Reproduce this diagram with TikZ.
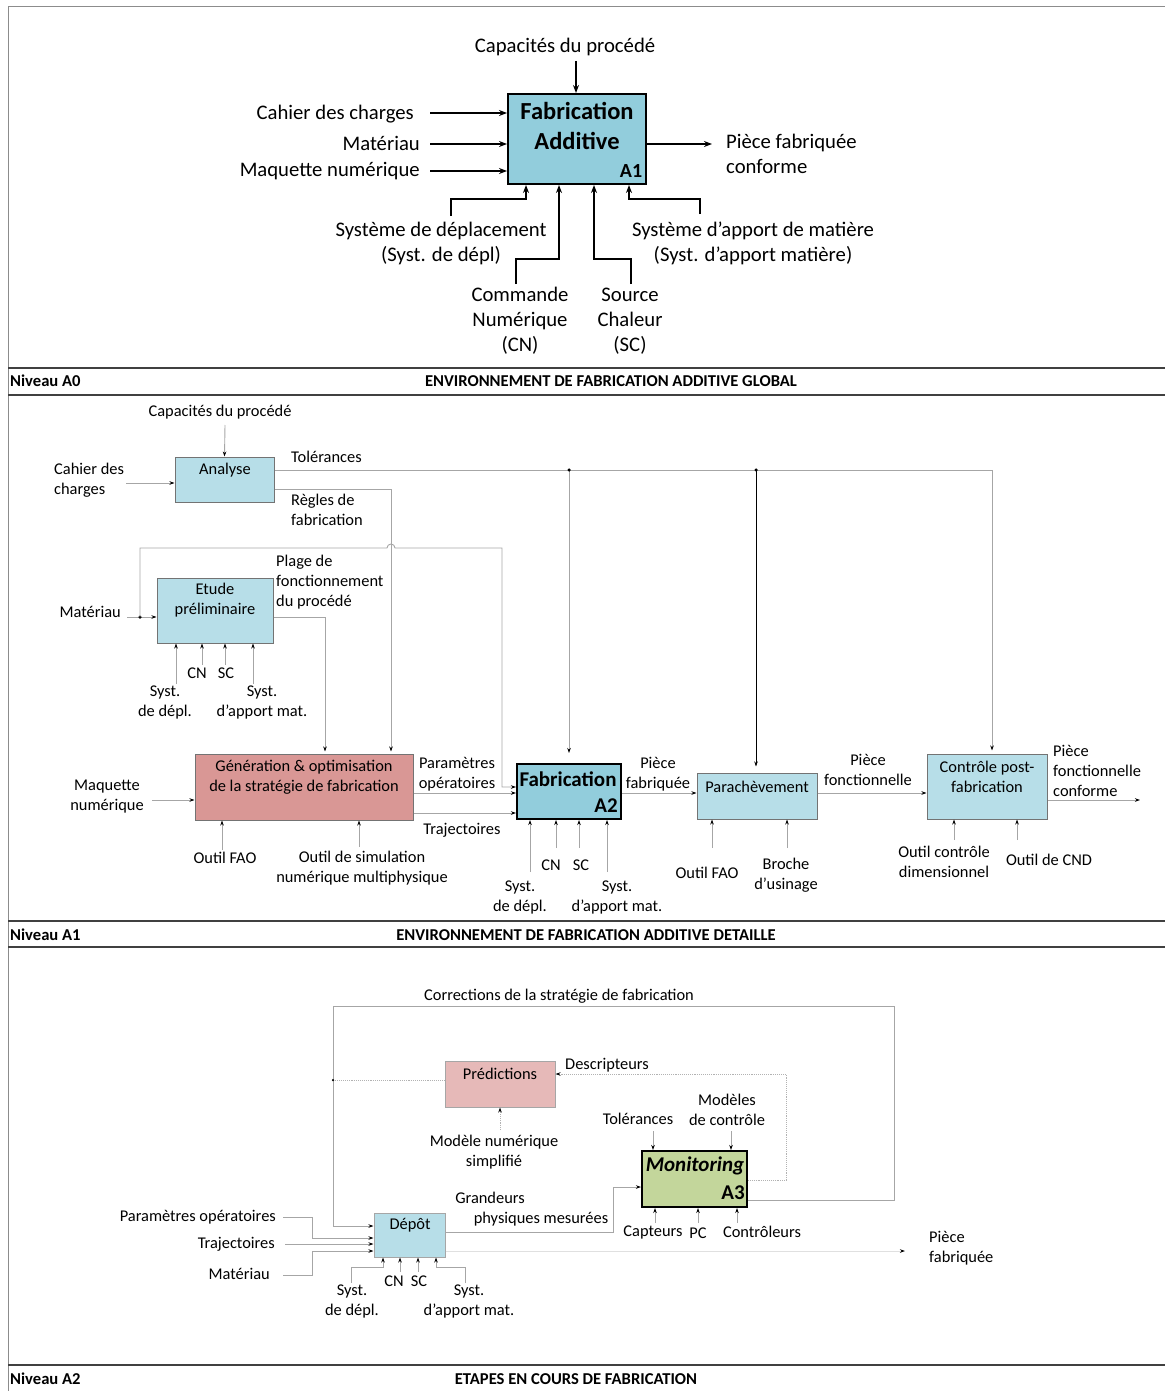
\documentclass[tikz,border=0pt]{standalone}
\usepackage{fontspec}
\setmainfont{Carlito}
\usetikzlibrary{arrows.meta}
\definecolor{bdark}{HTML}{92CDDC}
\definecolor{blight}{HTML}{B7DEE8}
\definecolor{salmon}{HTML}{D99795}
\definecolor{pinkp}{HTML}{E6B9B8}
\definecolor{greenm}{HTML}{C3D69B}
\definecolor{lgray}{HTML}{A6A6A6}
\newcommand\fA{\fontsize{20.7}{25}\selectfont}
\newcommand\fB{\fontsize{16.4}{20}\selectfont}
\newcommand\fBand{\fontsize{16.6}{18}\selectfont\bfseries}
\begin{document}
\begin{tikzpicture}[x=1pt,y=-1pt,
  big/.style={font=\fA, inner sep=0, align=center},
  lbl/.style={font=\fB, inner sep=0, align=center},
  band/.style={font=\fBand, inner sep=0},
  arrT/.style={-{Stealth[length=8pt,width=6pt]}, line width=1.4},
  arr/.style={-{Stealth[length=5pt,width=3.5pt,color=black]}, draw=lgray, line width=0.9},
  ln/.style={draw=lgray, line width=0.9},
  dotarr/.style={-{Stealth[length=5pt,width=3.5pt,color=black]}, draw=lgray, line width=0.9, densely dotted},
  boxbig/.style={draw=black, line width=2, inner sep=0},
  boxl/.style={draw=black!55, line width=1, inner sep=0},
  jdot/.style={circle, fill=black, inner sep=0, minimum size=3.5pt}
]
\useasboundingbox (0,0) rectangle (1165,1391);
% frame
\draw[black!45, line width=1] (8,1391) -- (8,7) -- (1165,7);
\draw[black!75, line width=2] (8,368) -- (1165,368);
\draw[black!75, line width=1.6] (8,395) -- (1165,395);
\draw[black!75, line width=2] (8,921) -- (1165,921);
\draw[black!75, line width=1.6] (8,947) -- (1165,947);
\draw[black!75, line width=2] (8,1365) -- (1165,1365);
\node[band, anchor=west] (nA0) at (10,381) {Niveau A0};
\node[band] (tA0) at (611,381) {ENVIRONNEMENT DE FABRICATION ADDITIVE GLOBAL};
\node[band, anchor=west] (nA1) at (10,935) {Niveau A1};
\node[band] (tA1) at (586,935) {ENVIRONNEMENT DE FABRICATION ADDITIVE DETAILLE};
\node[band, anchor=west] (nA2) at (10,1379) {Niveau A2};
\node[band] (tA2) at (576,1379) {ETAPES EN COURS DE FABRICATION};

% ================= Level A0 =================
\node[boxbig, fill=bdark, minimum width=138, minimum height=90] (A1) at (577,139) {};
\node[font=\fontsize{24.5}{28}\selectfont\bfseries, inner sep=0] (A1t1) at (577,111) {Fabrication};
\node[font=\fontsize{24.5}{28}\selectfont\bfseries, inner sep=0] (A1t2) at (577,141) {Additive};
\node[font=\fontsize{20}{22}\selectfont\bfseries, inner sep=0] (A1n) at (631,171) {A1};

\node[big] (cap0) at (565,47) {Capacités du procédé};
\draw[arrT] (576,61) -- (A1.north -| 576,0);
\node[big, anchor=east] (cdc0) at (414,114) {Cahier des charges};
\node[big, anchor=east] (mat0) at (420,143) {Matériau};
\node[big, anchor=east] (maq0) at (420,171) {Maquette numérique};
\draw[arrT] (430,113) -- (A1.west |- 0,113);
\draw[arrT] (430,144) -- (A1.west |- 0,144);
\draw[arrT] (430,171) -- (A1.west |- 0,171);
\coordinate (out0) at (712,144);
\draw[arrT] (A1.east |- 0,144) -- (out0);
\node[big, anchor=west, align=left] (pfc) at (726,154) {Pièce fabriquée\\conforme};

\node[big] (sdd) at (441,243) {Système de déplacement\\(Syst. de dépl)};
\node[big] (sam) at (753,243) {Système d’apport de matière\\(Syst. d’apport matière)};
\node[big] (cn0) at (520,321) {Commande\\Numérique\\(CN)};
\node[big] (sc0) at (630,321) {Source\\Chaleur\\(SC)};
\draw[arrT] (451,216) -- (451,199) -- (526,199) -- (A1.south -| 526,0);
\draw[arrT] (516,284) -- (516,259) -- (559,259) -- (A1.south -| 559,0);
\draw[arrT] (631,284) -- (631,259) -- (594,259) -- (A1.south -| 594,0);
\draw[arrT] (700,214) -- (700,199) -- (629,199) -- (A1.south -| 629,0);

% ================= Level A1 =================
\node[boxl, fill=blight, minimum width=99, minimum height=45] (Ana) at (224.5,479.5) {};
\node[lbl] (Anat) at (225,470) {Analyse};
\node[boxl, fill=blight, minimum width=116, minimum height=65] (Etu) at (215,610.5) {};
\node[lbl] (Etut) at (215,600) {Etude\\préliminaire};
\node[boxl, fill=salmon, minimum width=218, minimum height=66] (Gen) at (304,787) {};
\node[lbl] (Gent) at (304,777) {Génération \& optimisation\\de la stratégie de fabrication};
\node[boxbig, fill=bdark, minimum width=104, minimum height=55] (Fab) at (569,791.5) {};
\node[font=\fontsize{21}{24}\selectfont\bfseries, inner sep=0] (Fabt) at (568,779) {Fabrication};
\node[font=\fontsize{21}{24}\selectfont\bfseries, inner sep=0] (Fabn) at (606,806) {A2};
\node[boxl, fill=blight, minimum width=120, minimum height=46] (Par) at (757,796) {};
\node[lbl] (Part) at (757,787) {Parachèvement};
\node[boxl, fill=blight, minimum width=120, minimum height=65] (Ctl) at (987,786.5) {};
\node[lbl] (Ctlt) at (987,777) {Contrôle post-\\fabrication};

\node[lbl] (cap1) at (220,412) {Capacités du procédé};
\draw[arr] (225,425) -- (Ana.north);
\node[lbl, align=left, anchor=west] (cdc1) at (54,480) {Cahier des\\charges};
\draw[arr] (126,483) -- (Ana.west |- 0,483);
\node[lbl, anchor=west] (tol1) at (291,457) {Tolérances};
\node[lbl, align=left, anchor=west] (reg1) at (291,510) {Règles de\\fabrication};
\coordinate (j1) at (569,470);
\coordinate (j2) at (756,470);
\draw[arr, shorten >=3pt] (Ana.east |- 0,470) -- (992,470) -- (Ctl.north -| 992,0);
\draw[arr, shorten >=10pt] (j1) -- (Fab.north);
\draw[-{Stealth[length=5pt,width=3.5pt]}, line width=0.7, shorten >=6pt] (j2) -- (Par.north -| j2);
\node[jdot] at (j1) {};
\node[jdot] at (j2) {};
\draw[arr, shorten >=2pt] (Ana.east |- 0,489) -- (391,489) -- (Gen.north -| 391,0);

\node[lbl, anchor=east] (mat1) at (121,612) {Matériau};
\coordinate (j3) at (140,617);
\draw[arr] (127,617) -- (Etu.west |- 0,617);
\node[jdot] at (j3) {};
\draw[arr] (j3) -- (140,548) -- (387,548) arc (180:360:4) -- (502,548) -- (502,787) -- (Fab.west |- 0,787);
\node[lbl, align=left, anchor=west] (plage) at (276,582) {Plage de\\fonctionnement\\du procédé};
\draw[arr, shorten >=2pt] (Etu.east |- 0,617) -- (325,617) -- (Gen.north -| 325,0);
\draw[arr] (176,684) -- (Etu.south -| 176,0);
\draw[arr] (202,665) -- (Etu.south -| 202,0);
\draw[arr] (225,665) -- (Etu.south -| 225,0);
\draw[arr] (253,684) -- (Etu.south -| 253,0);
\node[lbl] (cn1) at (197,673) {CN};
\node[lbl] (sc1) at (226,673) {SC};
\node[lbl] (sd1) at (165,702) {Syst.\\de dépl.};
\node[lbl] (sa1) at (262,702) {Syst.\\d’apport mat.};

\node[lbl] (maq1) at (107,797) {Maquette\\numérique};
\draw[arr] (152,800) -- (Gen.west |- 0,800);
\node[lbl] (par1) at (457,774) {Paramètres\\opératoires};
\draw[arr] (Gen.east |- 0,793) -- (Fab.west |- 0,793);
\draw[arr] (Gen.east |- 0,813) -- (Fab.west |- 0,813);
\node[lbl] (tra1) at (462,830) {Trajectoires};
\draw[arr] (222,850) -- (Gen.south -| 222,0);
\draw[arr] (359,847) -- (Gen.south -| 359,0);
\node[lbl] (fao1) at (225,858) {Outil FAO};
\node[lbl] (sim1) at (362,868) {Outil de simulation\\numérique multiphysique};

\draw[arr] (530,872) -- (Fab.south -| 530,0);
\draw[arr] (556,848) -- (Fab.south -| 556,0);
\draw[arr] (579,848) -- (Fab.south -| 579,0);
\draw[arr] (607,872) -- (Fab.south -| 607,0);
\node[lbl] (cn2) at (551,865) {CN};
\node[lbl] (sc2) at (581,865) {SC};
\node[lbl] (sd2) at (520,897) {Syst.\\de dépl.};
\node[lbl] (sa2) at (617,897) {Syst.\\d’apport mat.};

\draw[arr] (Fab.east |- 0,793) -- (Par.west |- 0,793);
\node[lbl] (pf1) at (658,774) {Pièce\\fabriquée};
\draw[arr] (712,848) -- (Par.south -| 712,0);
\draw[arr] (787,848) -- (Par.south -| 787,0);
\node[lbl] (fao2) at (707,873) {Outil FAO};
\node[lbl] (bro) at (786,875) {Broche\\d’usinage};

\draw[arr] (Par.east |- 0,793) -- (Ctl.west |- 0,793);
\node[lbl] (pfo) at (868,770) {Pièce\\fonctionnelle};
\draw[arr] (954,840) -- (Ctl.south -| 954,0);
\draw[arr] (1017,840) -- (Ctl.south -| 1017,0);
\node[lbl] (ocd) at (944,862) {Outil contrôle\\dimensionnel};
\node[lbl] (cnd) at (1049,860) {Outil de CND};
\coordinate (out1) at (1140,800);
\draw[arr] (Ctl.east |- 0,800) -- (out1);
\node[lbl, align=left, anchor=west] (pfcc) at (1053,771) {Pièce\\fonctionnelle\\conforme};

% ================= Level A2 =================
\node[boxl, fill=pinkp, draw=black!35, minimum width=110, minimum height=46] (Pre) at (500,1084) {};
\node[lbl] (Pret) at (500,1074) {Prédictions};
\node[boxbig, fill=greenm, minimum width=105, minimum height=56] (Mon) at (694.5,1179) {};
\node[font=\fontsize{21}{24}\selectfont\bfseries\itshape, inner sep=0] (Mont) at (695,1166) {Monitoring};
\node[font=\fontsize{21}{24}\selectfont\bfseries, inner sep=0] (Monn) at (733,1193) {A3};
\node[boxl, fill=blight, draw=black!35, minimum width=71, minimum height=44] (Dep) at (409.5,1235) {};
\node[lbl] (Dept) at (410,1225) {Dépôt};

\node[lbl] (corr) at (559,996) {Corrections de la stratégie de fabrication};
\coordinate (j4) at (333,1080);
\draw[arr] (Mon.east |- 0,1200) -- (894,1200) -- (894,1006) -- (333,1006) -- (333,1226) -- (Dep.west |- 0,1226);
\draw[ln, densely dotted, draw=black!30] (Pre.west |- 0,1080) -- (j4);
\node[jdot, minimum size=2.5pt] at (j4) {};
\draw[dotarr, draw=black!30] (Mon.east |- 0,1180) -- (786,1180) -- (786,1074) -- (Pre.east |- 0,1074);
\node[lbl] (desc) at (607,1065) {Descripteurs};
\draw[dotarr, draw=black!30] (500,1130) -- (Pre.south);
\node[lbl] (mod) at (494,1152) {Modèle numérique\\simplifié};

\node[lbl] (tol2) at (638,1119) {Tolérances};
\node[lbl] (mdc) at (727,1110) {Modèles\\de contrôle};
\draw[arr] (653,1131) -- (Mon.north -| 653,0);
\draw[arr] (731,1131) -- (Mon.north -| 731,0);
\draw[arr] (655,1223) -- (Mon.south -| 655,0);
\draw[arr] (698,1223) -- (Mon.south -| 698,0);
\draw[arr] (737,1223) -- (Mon.south -| 737,0);
\node[lbl] (capt) at (653,1232) {Capteurs};
\node[lbl] (pc) at (698,1233) {PC};
\node[lbl] (ctrl) at (762,1232) {Contrôleurs};

\node[lbl] (gra) at (490,1198) {Grandeurs};
\node[lbl] (phy) at (541,1219) {physiques mesurées};
\draw[arr] (Dep.east |- 0,1232) -- (613,1232) -- (613,1187) -- (Mon.west |- 0,1187);
\coordinate (out2) at (905,1251);
\draw[arr, draw=black!12] (Dep.east |- 0,1251) -- (out2);
\node[lbl, align=left, anchor=west] (pf2) at (929,1248) {Pièce\\fabriquée};

\node[lbl, anchor=east] (par2) at (276,1217) {Paramètres opératoires};
\node[lbl, anchor=east] (tra2) at (275,1244) {Trajectoires};
\node[lbl, anchor=east] (mat2) at (270,1274) {Matériau};
\draw[arr] (283,1217) -- (312,1217) -- (312,1238) -- (Dep.west |- 0,1238);
\draw[arr] (285,1244) -- (Dep.west |- 0,1244);
\draw[arr] (283,1275) -- (312,1275) -- (312,1251) -- (Dep.west |- 0,1251);
\draw[arr] (351,1283) -- (351,1267) -- (383,1267) -- (Dep.south -| 383,0);
\draw[arr] (400,1272) -- (Dep.south -| 400,0);
\draw[arr] (418,1272) -- (Dep.south -| 418,0);
\draw[arr] (465,1283) -- (465,1267) -- (436,1267) -- (Dep.south -| 436,0);
\node[lbl] (cn3) at (394,1281) {CN};
\node[lbl] (sc3) at (419,1281) {SC};
\node[lbl] (sd3) at (352,1301) {Syst.\\de dépl.};
\node[lbl] (sa3) at (469,1301) {Syst.\\d’apport mat.};
\end{tikzpicture}
\end{document}
